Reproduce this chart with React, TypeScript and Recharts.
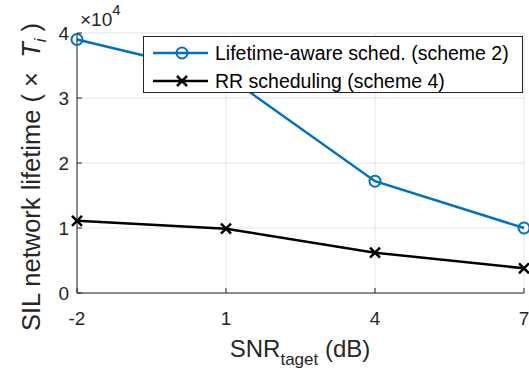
import React from 'react';
import { CartesianGrid, Legend, Line, LineChart, XAxis, YAxis } from 'recharts';

// values
const snrTarget = [-2, 1, 4, 7];
const lifetimeAware = [39000, 33500, 17200, 10000];
const rrScheduling = [11100, 9900, 6200, 3800];
const yTicks = [0, 10000, 20000, 30000, 40000];
const seriesNames = ['Lifetime-aware sched. (scheme 2)', 'RR scheduling (scheme 4)'];

const BLUE = '#0072BD';
const AXIS = '#262626';
const FONT = '"Liberation Sans", Arial, Helvetica, sans-serif';

const data = snrTarget.map((s, i) => ({
  snr: s,
  aware: lifetimeAware[i],
  rr: rrScheduling[i],
}));

const XTick = ({ x, y, payload }: any) => (
  <g>
    <line x1={x} x2={x} y1={y} y2={y - 5} stroke={AXIS} />
    <text x={x} y={y + 32} textAnchor="middle" fill={AXIS} style={{ fontSize: 19, fontFamily: FONT }}>
      {payload.value}
    </text>
  </g>
);

const YTick = ({ x, y, payload }: any) => (
  <g>
    <line x1={x} x2={x + 5} y1={y} y2={y} stroke={AXIS} />
    <text x={x - 8} y={y + 7} textAnchor="end" fill={AXIS} style={{ fontSize: 19, fontFamily: FONT }}>
      {payload.value / 10000}
    </text>
  </g>
);

const TopTick = ({ x, y }: any) => <line x1={x} x2={x} y1={y} y2={y + 5} stroke={AXIS} />;
const RightTick = ({ x, y }: any) => <line x1={x} x2={x - 5} y1={y} y2={y} stroke={AXIS} />;

const CrossDot = ({ cx, cy, index }: any) => (
  <path
    key={`x-${index}`}
    d={`M${cx - 5},${cy - 5}L${cx + 5},${cy + 5}M${cx - 5},${cy + 5}L${cx + 5},${cy - 5}`}
    stroke="#000"
    strokeWidth={2.5}
    fill="none"
  />
);

const XLabel = () => (
  <g>
    <text x={300} y={357} textAnchor="middle" fill={AXIS} style={{ fontSize: 24, fontFamily: FONT }}>
      SNR
      <tspan dy={8} style={{ fontSize: 17 }}>taget</tspan>
      <tspan dy={-8}>{'\u00A0(dB)'}</tspan>
    </text>
    <text x={80} y={26} fill={AXIS} style={{ fontSize: 19, fontFamily: FONT }}>
      ×10
      <tspan dy={-11} style={{ fontSize: 15 }}>4</tspan>
    </text>
  </g>
);

const YLabel = () => (
  <text
    transform="translate(40,177) rotate(-90)"
    textAnchor="middle"
    fill={AXIS}
    style={{ fontSize: 25.5, fontFamily: FONT }}
  >
    {'SIL network lifetime (\u00A0×\u00A0\u00A0'}
    <tspan fontStyle="italic">T</tspan>
    <tspan fontStyle="italic" dy={6} style={{ fontSize: 17 }}>i</tspan>
    <tspan dy={-6}>{'\u00A0)'}</tspan>
  </text>
);

const LegendBox = () => (
  <div
    style={{
      position: 'relative',
      width: 380,
      height: 57,
      boxSizing: 'border-box',
      border: `1px solid ${AXIS}`,
      background: '#fff',
      fontFamily: FONT,
      fontSize: 19.5,
      color: '#000',
    }}
  >
    {seriesNames.map((name, i) => (
      <div key={name} style={{ position: 'absolute', left: 0, top: 2 + i * 28, height: 28, width: 378 }}>
        <svg width={70} height={28} style={{ position: 'absolute', left: 0, top: 0 }}>
          <line x1={9} x2={64} y1={14} y2={14} stroke={i === 0 ? BLUE : '#000'} strokeWidth={2.5} />
          {i === 0 ? (
            <circle cx={38} cy={14} r={5.5} fill="none" stroke={BLUE} strokeWidth={2} />
          ) : (
            <path d="M33,9L43,19M33,19L43,9" stroke="#000" strokeWidth={2.5} />
          )}
        </svg>
        <span style={{ position: 'absolute', left: 71, top: 2, lineHeight: '24px', whiteSpace: 'nowrap' }}>
          {name}
        </span>
      </div>
    ))}
  </div>
);

export default function App() {
  return (
    <div style={{ position: 'absolute', left: 0, top: 0, background: '#fff' }}>
      <LineChart width={529} height={373} data={data} margin={{ top: 33, right: 5, bottom: 0, left: 0 }}>
        <CartesianGrid stroke="#e5e5e5" strokeWidth={1} />
        <XAxis
          dataKey="snr"
          type="number"
          domain={[-2, 7]}
          ticks={snrTarget}
          height={80}
          tickSize={0}
          tickMargin={0}
          tick={<XTick />}
          axisLine={{ stroke: AXIS }}
          label={<XLabel />}
        />
        <XAxis
          xAxisId="top"
          orientation="top"
          dataKey="snr"
          type="number"
          domain={[-2, 7]}
          ticks={snrTarget}
          height={0}
          tickSize={0}
          tickMargin={0}
          tick={<TopTick />}
          axisLine={{ stroke: AXIS }}
        />
        <YAxis
          type="number"
          domain={[0, 40000]}
          ticks={yTicks}
          width={77}
          tickSize={0}
          tickMargin={0}
          tick={<YTick />}
          axisLine={{ stroke: AXIS }}
          label={<YLabel />}
        />
        <YAxis
          yAxisId="right"
          orientation="right"
          type="number"
          domain={[0, 40000]}
          ticks={yTicks}
          width={0}
          tickSize={0}
          tickMargin={0}
          tick={<RightTick />}
          axisLine={{ stroke: AXIS }}
        />
        <Legend
          layout="horizontal"
          verticalAlign="middle"
          align="center"
          wrapperStyle={{ position: 'absolute', top: 36, left: 143, width: 380, height: 57 }}
          content={<LegendBox />}
        />
        <Line
          dataKey="aware"
          stroke={BLUE}
          strokeWidth={2.5}
          dot={{ r: 5.5, fill: 'none', stroke: BLUE, strokeWidth: 2 }}
          isAnimationActive={false}
        />
        <Line
          dataKey="rr"
          stroke="#000"
          strokeWidth={2.5}
          dot={<CrossDot />}
          isAnimationActive={false}
        />
      </LineChart>
    </div>
  );
}
